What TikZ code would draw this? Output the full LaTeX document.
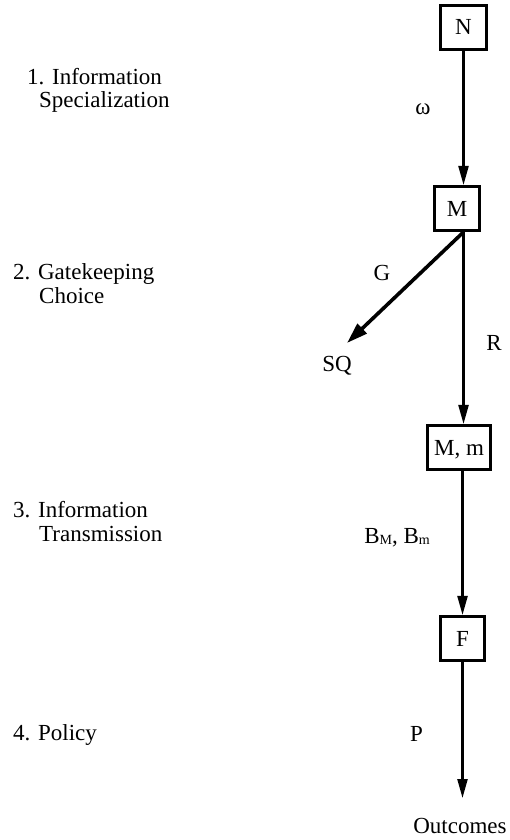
\documentclass[tikz,border=0pt]{standalone}
\usepackage{fontspec}
\setmainfont{Liberation Serif}
\usetikzlibrary{arrows.meta}
\newcommand{\subsc}[1]{\raisebox{-1.5pt}{\fontsize{14}{14}\selectfont #1}}
\begin{document}
\begin{tikzpicture}[x=1pt,y=-1pt,
  every node/.style={font=\fontsize{23}{24}\selectfont, inner sep=0pt},
  stagebox/.style={draw, line width=2.6pt, text height=15pt, text depth=0pt, minimum height=44.5pt},
  flow/.style={line width=2.2pt, -{Triangle[length=19pt,width=10pt]}},
  gate/.style={line width=3.6pt, -{Triangle[length=21pt,width=13pt]}},
  lbl/.style={anchor=base},
  stage/.style={anchor=base west, align=left}]
\useasboundingbox[fill=white] (0,0) rectangle (510,840);

% boxes
\node[stagebox, minimum width=46.4pt] (N) at (463.5,27.5) {N};
\node[stagebox, minimum width=45.4pt] (M) at (457,208.5) {M};
\node[stagebox, minimum width=63.4pt] (Mm) at (459,447.5) {M, m};
\node[stagebox, minimum width=44.4pt] (F) at (462.5,638.5) {F};

% ends
\node[lbl] (SQ) at (337,371) {SQ};
\node[lbl] (Out) at (460,833) {Outcomes};
\coordinate (sqTip) at (347,343);
\coordinate (outTip) at (462.5,798);

% connectors
\draw[flow] (N.south) -- (N.south |- M.north);
\draw[flow] (M.south -| N.south) -- (Mm.north -| N.south);
\draw[gate] (M.south -| N.south) -- (sqTip);
\draw[flow] (Mm.south -| F.north) -- (F.north);
\draw[flow] (F.south) -- (outTip);

% connector labels
\node[lbl] (om) at (423,114) {ω};
\node[lbl] (G) at (382,280) {G};
\node[lbl] (R) at (494,350) {R};
\node[anchor=base east] (B) at (430,543) {B\subsc{M}, B\subsc{m}};
\node[lbl] (P) at (416.5,741) {P};

% stage labels
\node[stage] (s1) at (27,108) {1. Information\\\hspace*{12pt}Specialization};
\node[stage] (s2) at (13,303) {2. Gatekeeping\\\hspace*{26pt}Choice};
\node[stage] (s3) at (13,541) {3. Information\\\hspace*{26pt}Transmission};
\node[stage] (s4) at (13,740) {4. Policy};
\end{tikzpicture}
\end{document}
